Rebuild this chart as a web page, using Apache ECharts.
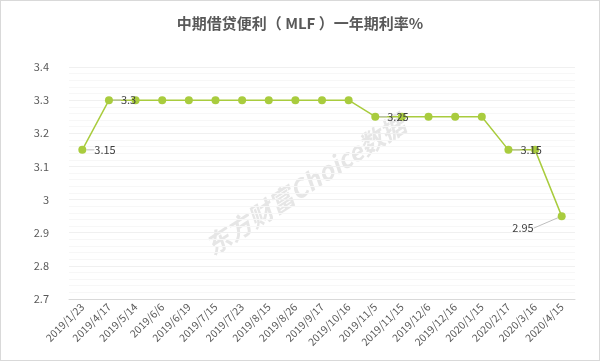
<!DOCTYPE html>
<html>
<head>
<meta charset="utf-8">
<script src="https://cdn.jsdelivr.net/npm/echarts@6/dist/echarts.min.js"></script>
<style>
html,body{margin:0;padding:0;background:#fff;}
#main{width:600px;height:361px;box-sizing:border-box;border:1px solid #d9d9d9;}
</style>
</head>
<body>
<div id="main"></div>
<script>
var categories = ['2019/1/23','2019/4/17','2019/5/14','2019/6/6','2019/6/19','2019/7/15','2019/7/23','2019/8/15','2019/8/26','2019/9/17','2019/10/16','2019/11/5','2019/11/15','2019/12/6','2019/12/16','2020/1/15','2020/2/17','2020/3/16','2020/4/15'];
var rates = [3.15,3.3,3.3,3.3,3.3,3.3,3.3,3.3,3.3,3.3,3.3,3.25,3.25,3.25,3.25,3.25,3.15,3.15,2.95];
var labeledIdx = [0,1,11,16,18];
var yTicks = [2.7,2.8,2.9,3,3.1,3.2,3.3,3.4];

var chart = echarts.init(document.getElementById('main'));
var font = '"Microsoft YaHei","Noto Sans CJK SC",sans-serif';
chart.setOption({
  animation:false,
  title:{
    text:'中期借贷便利（ MLF ）一年期利率%',
    left:'center', top:10,
    textStyle:{fontFamily:font,fontSize:15,fontWeight:'bold',color:'#595959'}
  },
  graphic:[{
    type:'text', left:200, top:110, rotation:Math.PI*33/180, z:0,
    style:{text:'东方财富Choice数据', fill:'rgba(200,200,200,0.45)', font:'italic bold 25px "Noto Sans CJK SC",sans-serif'}
  }],
  grid:{left:68,right:24,top:66,bottom:61},
  xAxis:{
    type:'category', data:categories, boundaryGap:true,
    axisLine:{lineStyle:{color:'#d9d9d9'}},
    axisTick:{show:false},
    axisLabel:{rotate:45,fontSize:10.5,color:'#595959',fontFamily:font,margin:6,interval:0},
    splitLine:{show:false}
  },
  yAxis:{
    type:'value', min:yTicks[0], max:yTicks[yTicks.length-1], interval:0.1,
    axisLine:{show:false}, axisTick:{show:false},
    axisLabel:{fontSize:11,color:'#595959',fontFamily:font,margin:20,
      formatter:function(v){return String(Math.round(v*10)/10);}},
    splitLine:{lineStyle:{color:'#f0f0f0'}},
    minorTick:{show:false,splitNumber:5},
    minorSplitLine:{show:true,lineStyle:{color:'#f7f7f7'}}
  },
  series:[{
    type:'line',
    data:rates.map(function(v,i){
      var d={value:v};
      if(labeledIdx.indexOf(i)>=0){
        d.label={show:true,position:i===18?'left':'right',distance:i===18?24:8};
      }
      return d;
    }),
    symbol:'circle', symbolSize:8,
    lineStyle:{color:'#a9cc3e',width:1.5},
    itemStyle:{color:'#a9cc3e'},
    label:{show:false,color:'#404040',fontSize:11,fontFamily:font},
    labelLayout:function(p){ if(p.dataIndex===18) return {dy:12}; return {}; },
    labelLine:{show:true,lineStyle:{color:'#bfbfbf'}},
    z:3
  }]
});
</script>
</body>
</html>
